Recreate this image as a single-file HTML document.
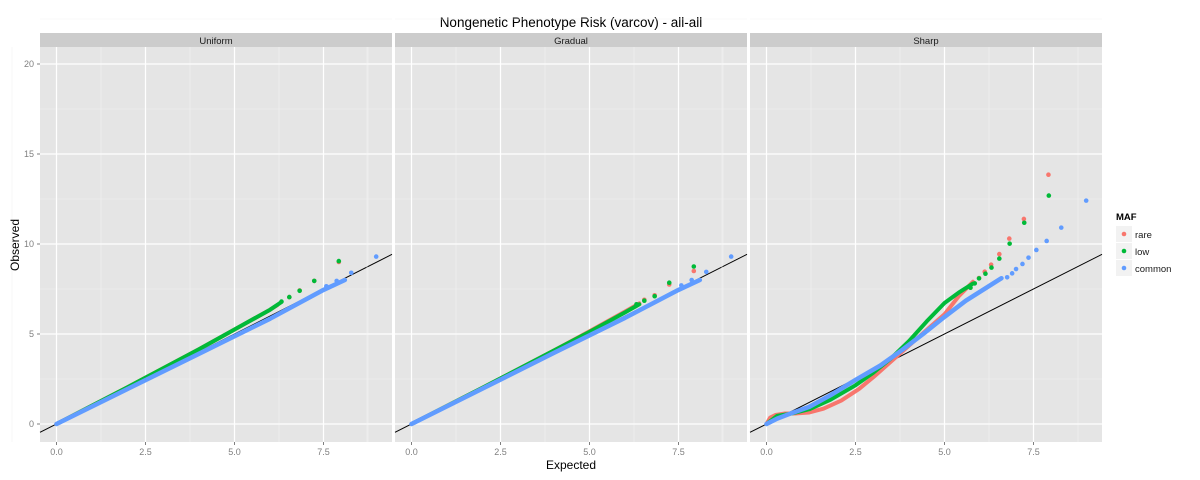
<!DOCTYPE html>
<html><head><meta charset="utf-8"><style>
body{margin:0;background:#fff}
svg{display:block;font-family:"Liberation Sans",Arial,sans-serif}
</style></head><body>
<svg id="chart" width="1200" height="480" xmlns="http://www.w3.org/2000/svg"></svg>
<script>
const facets=["Uniform","Gradual","Sharp"];
const seriesNames=["rare","low","common"];
const colors=["#F8766D","#00BA38","#619CFF"];
const xTicks=[0,2.5,5,7.5];
const xTickLabels=["0.0","2.5","5.0","7.5"];
const yTicks=[0,5,10,15,20];
const yTickLabels=["0","5","10","15","20"];
// bulk curves [facet][series] expected / observed
const bulkE=[
 [[0,2,4,5,6,6.2],[0,2,4,5,6,6.3],[0,2,4,6,7.5,8.1]],
 [[0,2,4,5,6,6.4],[0,2,4,5,6,6.4],[0,2,4,6,7.5,8.1]],
 [[0,0.1,0.25,0.5,0.8,1.2,1.6,2.1,2.6,3.0,3.4,3.8,4.2,4.6,5.0,5.4,5.8],
  [0,0.3,0.7,1.2,1.8,2.5,3.0,3.5,4.0,4.5,5.0,5.4,5.8],
  [0,0.3,0.7,1.2,1.8,2.5,3.2,3.8,4.4,5.0,5.6,6.2,6.6]]
];
const bulkO=[
 [[0,2.05,4.15,5.25,6.35,6.6],[0,2.05,4.15,5.25,6.35,6.75],[0,1.95,3.9,5.85,7.45,8.0]],
 [[0,2.02,4.08,5.15,6.25,6.7],[0,2.02,4.08,5.12,6.2,6.65],[0,1.97,3.95,5.9,7.45,8.0]],
 [[0,0.35,0.5,0.58,0.58,0.64,0.85,1.3,1.95,2.6,3.3,4.0,4.7,5.4,6.1,7.1,7.9],
  [0,0.45,0.58,0.82,1.35,2.15,2.85,3.65,4.6,5.7,6.72,7.3,7.8],
  [0,0.3,0.6,0.95,1.6,2.45,3.25,4.1,5.0,5.95,6.85,7.6,8.1]]
];
// tail points
const tailE=[
 [[7.93,7.24,6.83,6.54],[7.93,7.24,6.83,6.54,6.32],[8.98,8.28,7.87,7.58]],
 [[7.93,7.24,6.83,6.54],[7.93,7.24,6.83,6.54,6.32],[8.98,8.28,7.87,7.58]],
 [[7.92,7.23,6.82,6.54,6.31,6.13,5.97],[7.93,7.24,6.83,6.54,6.32,6.15,5.97,5.85,5.73],[8.98,8.28,7.87,7.58,7.36,7.19,7.01,6.9,6.76]]
];
const tailO=[
 [[9.0,7.95,7.42,7.05],[9.05,7.95,7.4,7.05,6.8],[9.3,8.4,7.95,7.65]],
 [[8.5,7.75,7.15,6.9],[8.75,7.85,7.1,6.85,6.65],[9.3,8.45,8.0,7.7]],
 [[13.85,11.39,10.3,9.44,8.85,8.46,8.11],[12.69,11.18,10.02,9.19,8.69,8.35,8.09,7.81,7.57],[12.41,10.91,10.17,9.67,9.24,8.89,8.61,8.37,8.15]]
];
const NS="http://www.w3.org/2000/svg";
const svg=document.getElementById('chart');
function el(t,a,p){const e=document.createElementNS(NS,t);for(const k in a)e.setAttribute(k,a[k]);(p||svg).appendChild(e);return e;}
const panelX=[40,395,750],panelW=352,panelTop=47,panelBot=442;
const xs=(f,v)=>panelX[f]+16.5+v*35.6;
const ys=v=>424-v*18;
const t=el('text',{x:571,y:27,'text-anchor':'middle','font-size':13.5,fill:'#000'});t.textContent="Nongenetic Phenotype Risk (varcov) - all-all";

facets.forEach((name,f)=>{
 const g=el('g',{});
 
 
 el('rect',{x:panelX[f],y:panelTop,width:panelW,height:panelBot-panelTop,fill:'#E5E5E5'},g);
 const s=el('rect',{x:panelX[f],y:33,width:panelW,height:14,fill:'#CCCCCC'},g);
 
 
 const st=el('text',{x:panelX[f]+panelW/2,y:44,'text-anchor':'middle','font-size':9.5,fill:'#1a1a1a'},g);st.textContent=name;
 for(let i=0;i<xTicks.length;i++){const m=xTicks[i]+1.25;el('line',{x1:xs(f,m),x2:xs(f,m),y1:panelTop,y2:panelBot,stroke:'#F2F2F2','stroke-width':0.6},g);}
 el('line',{x1:xs(f,-1.25),x2:xs(f,-1.25),y1:panelTop,y2:panelBot,stroke:'#F2F2F2','stroke-width':0.6},g);
 for(let i=0;i<yTicks.length;i++){const m=yTicks[i]+2.5;el('line',{x1:panelX[f],x2:panelX[f]+panelW,y1:ys(m),y2:ys(m),stroke:'#F2F2F2','stroke-width':0.6},g);}
 xTicks.forEach(v=>el('line',{x1:xs(f,v),x2:xs(f,v),y1:panelTop,y2:panelBot,stroke:'#fff','stroke-width':1.2},g));
 yTicks.forEach(v=>el('line',{x1:panelX[f],x2:panelX[f]+panelW,y1:ys(v),y2:ys(v),stroke:'#fff','stroke-width':1.2},g));
 const lo=(panelX[f]-xs(f,0))/35.6, hi=(panelX[f]+panelW-xs(f,0))/35.6;
 const rl=el('line',{x1:xs(f,lo),y1:ys(lo),x2:xs(f,hi),y2:ys(hi),stroke:'#000','stroke-width':1},g);
 
 seriesNames.forEach((sn,k)=>{
  const pts=bulkE[f][k].map((e,i)=>xs(f,e)+','+ys(bulkO[f][k][i])).join(' ');
  const pl=el('polyline',{points:pts,fill:'none',stroke:colors[k],'stroke-width':k==2?4.5:4,'stroke-linecap':'round','stroke-linejoin':'round'},g);
  
  tailE[f][k].forEach((e,i)=>{
   const c=el('circle',{cx:xs(f,e),cy:ys(tailO[f][k][i]),r:2.3,fill:colors[k]},g);
   
  });
 });
 xTicks.forEach((v,i)=>{
  el('line',{x1:xs(f,v),x2:xs(f,v),y1:panelBot,y2:panelBot+3,stroke:'#7f7f7f'});
  const tx=el('text',{x:xs(f,v),y:455,'text-anchor':'middle','font-size':9,fill:'#7f7f7f'});tx.textContent=xTickLabels[i];
  
 });
});
yTicks.forEach((v,i)=>{
 el('line',{x1:37,x2:40,y1:ys(v),y2:ys(v),stroke:'#7f7f7f'});
 const tx=el('text',{x:34,y:ys(v)+3,'text-anchor':'end','font-size':9,fill:'#7f7f7f'});tx.textContent=yTickLabels[i];
 
});
const xt=el('text',{x:571,y:469,'text-anchor':'middle','font-size':12});xt.textContent="Expected";

const yt=el('text',{x:0,y:0,'text-anchor':'middle','font-size':12,transform:'translate(19,245) rotate(-90)'});yt.textContent="Observed";

const lt=el('text',{x:1116,y:220,'font-size':9.5,'font-weight':'bold'});lt.textContent="MAF";

seriesNames.forEach((sn,k)=>{
 const g=el('g',{});
 
 const y0=226+k*17;
 el('rect',{x:1116,y:y0,width:16,height:16,fill:'#F2F2F2'},g);
 el('circle',{cx:1124,cy:y0+8,r:2.3,fill:colors[k]},g);
 const tx=el('text',{x:1135,y:y0+12,'font-size':9.5,fill:'#1a1a1a'},g);tx.textContent=sn;
});
</script>
</body></html>
